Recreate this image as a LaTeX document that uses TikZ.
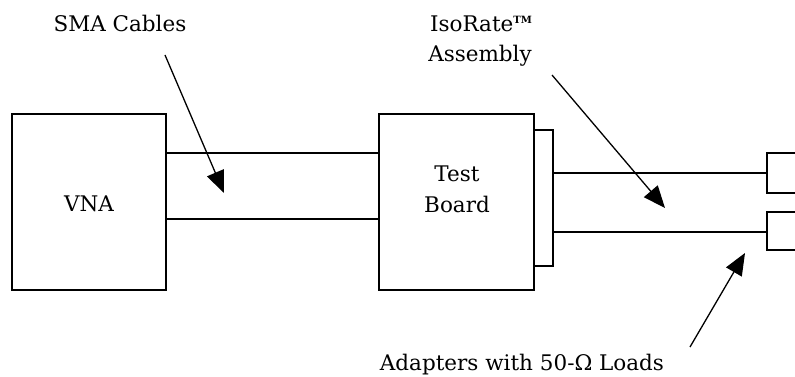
\documentclass[tikz,border=0pt]{standalone}
\usepackage{fontspec}
\setmainfont{DejaVu Serif}
\usetikzlibrary{arrows.meta}
\begin{document}
\begin{tikzpicture}[x=1pt,y=-1pt,
  box/.style={draw, line width=2pt, inner sep=0pt, outer sep=0pt, anchor=north west},
  cable/.style={line width=2pt},
  lbl/.style={font=\fontsize{21.5}{30}\selectfont, align=center, inner sep=0pt},
  pointer/.style={line width=1.3pt, -{Triangle[length=22pt,width=18pt]}}]
\fill[white] (0,0) rectangle (795,377);
\useasboundingbox (0,0) rectangle (795,377);
% boxes
\node[box, minimum width=154pt, minimum height=176pt] (vna) at (12,114) {};
\node[box, minimum width=155pt, minimum height=176pt] (tb) at (379,114) {};
\node[box, minimum width=19pt, minimum height=136pt] (conn) at (534,130) {};
% adapters (cut by the right edge)
\coordinate (a1t) at (797,153); \coordinate (a1b) at (797,193);
\coordinate (a2t) at (797,212); \coordinate (a2b) at (797,250);
\draw[cable] (a1t) -| (767,193) coordinate (a1c) -- (a1b);
\draw[cable] (a2t) -| (767,250) coordinate (a2c) -- (a2b);
% cables
\draw[cable] (vna.east |- 0,153) -- (tb.west |- 0,153);
\draw[cable] (vna.east |- 0,219) -- (tb.west |- 0,219);
\draw[cable] (conn.east |- 0,173) -- (a1c |- 0,173);
\draw[cable] (conn.east |- 0,232) -- (a2c |- 0,232);
% texts
\node[lbl, anchor=base] (t1) at (120,32) {SMA Cables};
\node[lbl, anchor=base] (t2a) at (481,32) {IsoRate\raisebox{8pt}{\fontsize{10}{10}\selectfont\bfseries TM}};
\node[lbl, anchor=base] (t2b) at (480,62) {Assembly};
\node[lbl, anchor=base] (tv) at (89,211) {VNA};
\node[lbl, anchor=base] (ttb1) at (457,182) {Test};
\node[lbl, anchor=base] (ttb2) at (457,212) {Board};
\node[lbl, anchor=base] (t3) at (522,370) {Adapters with 50-Ω Loads};
% pointers
\coordinate (p1s) at (165,55);  \coordinate (p1e) at (224,193);
\coordinate (p2s) at (552,75);  \coordinate (p2e) at (665,208);
\coordinate (p3s) at (690,347); \coordinate (p3e) at (745,253);
\draw[pointer] (p1s) -- (p1e);
\draw[pointer] (p2s) -- (p2e);
\draw[pointer] (p3s) -- (p3e);
\end{tikzpicture}
\end{document}
